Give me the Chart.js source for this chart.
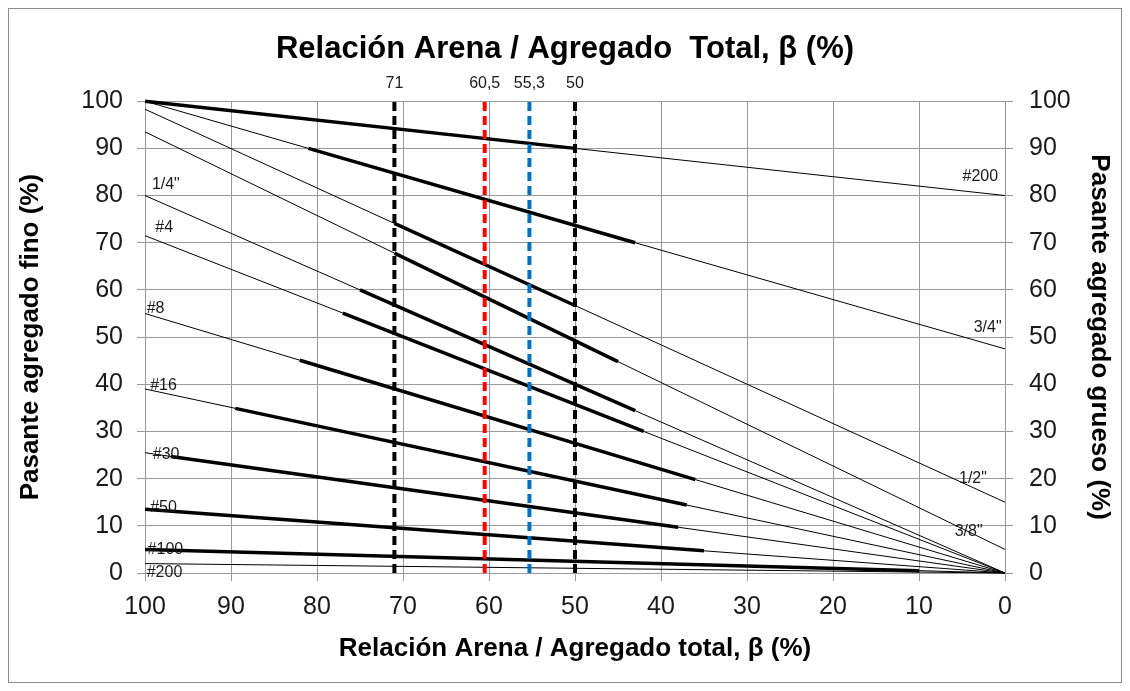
<!DOCTYPE html>
<html>
<head>
<meta charset="utf-8">
<script src="https://cdn.jsdelivr.net/npm/chart.js@4.4.0/dist/chart.umd.min.js"></script>
<style>
  body { margin: 0; background: #fff; }
  #wrap { width: 1130px; height: 691px; position: relative; }
</style>
</head>
<body>
<div id="wrap"><canvas id="myChart"></canvas></div>
<script>
// % passing of each line at beta = 100 (fine) and beta = 0 (coarse)
var fineEnd   = [100, 100, 98.3, 93.5, 80, 71.5, 55, 39, 25.5, 13.5, 5, 2];
var coarseEnd = [80, 47.5, 15, 5, 0, 0, 0, 0, 0, 0, 0, 0];
// thick part of each line (start / end)
var bandFromBeta = [100, 81, 71, 71, 75, 77, 82, 89.5, 97, 100, 100, null];
var bandFromPct  = [100, 90, 74.1, 67.8, 60, 55.1, 45.1, 34.9, 24.7, 13.5, 5, null];
var bandToBeta   = [50, 43, 50, 45, 43, 42, 36, 37, 38, 35, 10, null];
var bandToPct    = [90, 70, 56.7, 44.8, 34.4, 30, 19.8, 14.4, 9.7, 4.7, 0.5, null];

// vertical markers
var markerBeta = [71, 60.5, 55.3, 50];
var markerText = ['71', '60,5', '55,3', '50'];
var markerColor = ['#000000', '#ff0000', '#0070c0', '#000000'];

// sieve labels (text, beta, %)
var leftLabels = ['1/4"', '#4', '#8', '#16', '#30', '#50', '#100', '#200'];
var leftLabelBeta = [99.2, 98.8, 99.8, 99.4, 99.1, 99.4, 99.7, 99.8];
var leftLabelPct = [82.4, 73.2, 56.0, 39.8, 25.0, 13.8, 4.9, 0];
var rightLabels = ['#200', '3/4"', '1/2"', '3/8"'];
var rightLabelBeta = [0.8, 0.4, 2.1, 2.6];
var rightLabelPct = [84.1, 52.0, 20.1, 8.8];

var gridColor = '#9a9a9a';
var textColor = '#1a1a1a';
var fam = '"Liberation Sans", Arial, sans-serif';

var datasets = [];
for (var i = 0; i < markerBeta.length; i++) {
    datasets.push({
        data: [{x: markerBeta[i], y: 0}, {x: markerBeta[i], y: 100}],
        borderColor: markerColor[i],
        borderWidth: 4,
        borderDash: [9, 5],
        pointRadius: 0,
        order: 0
    });
}
for (var j = 0; j < fineEnd.length; j++) {
    var pts = [{x: 100, y: fineEnd[j]}];
    if (bandFromBeta[j] !== null) {
        pts.push({x: bandFromBeta[j], y: bandFromPct[j]});
        pts.push({x: bandToBeta[j], y: bandToPct[j]});
    }
    pts.push({x: 0, y: coarseEnd[j]});
    datasets.push({
        data: pts,
        borderColor: '#000',
        borderWidth: 1,
        pointRadius: 0,
        clip: false,
        order: 1,
        segment: {
            borderWidth: function (ctx) {
                return (ctx.chart.data.datasets[ctx.datasetIndex].data.length === 4 && ctx.p0DataIndex === 1) ? 3.5 : 1;
            }
        }
    });
}

var annot = {
    id: 'annot',
    beforeDraw: function (chart) {
        var c = chart.ctx;
        c.save();
        c.fillStyle = '#fff';
        c.fillRect(0, 0, chart.width, chart.height);
        c.strokeStyle = '#8c8c8c';
        c.lineWidth = 1;
        c.strokeRect(8.5, 8.5, chart.width - 17, chart.height - 17);
        c.restore();
    },
    afterDatasetsDraw: function (chart) {
        var c = chart.ctx, xs = chart.scales.x, ys = chart.scales.y;
        c.save();
        c.fillStyle = textColor;
        c.font = '16px ' + fam;
        c.textBaseline = 'middle';
        c.textAlign = 'center';
        for (var i = 0; i < markerBeta.length; i++) {
            c.fillText(markerText[i], xs.getPixelForValue(markerBeta[i]), ys.getPixelForValue(103.8));
        }
        c.textAlign = 'left';
        for (var k = 0; k < leftLabels.length; k++) {
            c.fillText(leftLabels[k], xs.getPixelForValue(leftLabelBeta[k]), ys.getPixelForValue(leftLabelPct[k]));
        }
        c.textAlign = 'right';
        for (var m = 0; m < rightLabels.length; m++) {
            c.fillText(rightLabels[m], xs.getPixelForValue(rightLabelBeta[m]), ys.getPixelForValue(rightLabelPct[m]));
        }
        c.restore();
    }
};

var tickFont = {family: fam, size: 25};
var titleFont = {family: fam, size: 26, weight: 'bold'};

var ctx = document.getElementById('myChart').getContext('2d');
var chart = new Chart(ctx, {
    type: 'line',
    data: {datasets: datasets},
    plugins: [annot],
    options: {
        responsive: true,
        maintainAspectRatio: false,
        animation: false,
        layout: {padding: {left: 11, right: 11, top: 0, bottom: 23}},
        plugins: {
            legend: {display: false},
            tooltip: {enabled: false},
            title: {
                display: true,
                text: 'Relación Arena / Agregado  Total, β (%)',
                color: '#000',
                font: {family: fam, size: 31, weight: 'bold'},
                padding: {top: 31, bottom: 33}
            }
        },
        scales: {
            x: {
                type: 'linear',
                reverse: true,
                min: 0, max: 100,
                ticks: {stepSize: 10, font: tickFont, color: textColor, padding: 11, maxRotation: 0},
                grid: {color: gridColor, tickLength: 8},
                border: {color: gridColor},
                title: {display: true, text: 'Relación Arena / Agregado total, β (%)', color: '#000', font: titleFont},
                afterFit: function (s) { s.height = 95; }
            },
            y: {
                position: 'left',
                min: 0, max: 100,
                ticks: {stepSize: 10, font: tickFont, color: textColor, padding: 14},
                grid: {color: gridColor, tickLength: 8},
                border: {color: gridColor},
                title: {display: true, text: 'Pasante agregado fino (%)', color: '#000', font: titleFont},
                afterFit: function (s) { s.width = 134; }
            },
            y2: {
                position: 'right',
                min: 0, max: 100,
                ticks: {stepSize: 10, font: tickFont, color: textColor, padding: 16},
                grid: {drawOnChartArea: false, color: gridColor, tickLength: 8},
                border: {color: gridColor},
                title: {display: true, text: 'Pasante agregado grueso (%)', color: '#000', font: titleFont},
                afterFit: function (s) { s.width = 114; }
            }
        }
    }
});
</script>
</body>
</html>
